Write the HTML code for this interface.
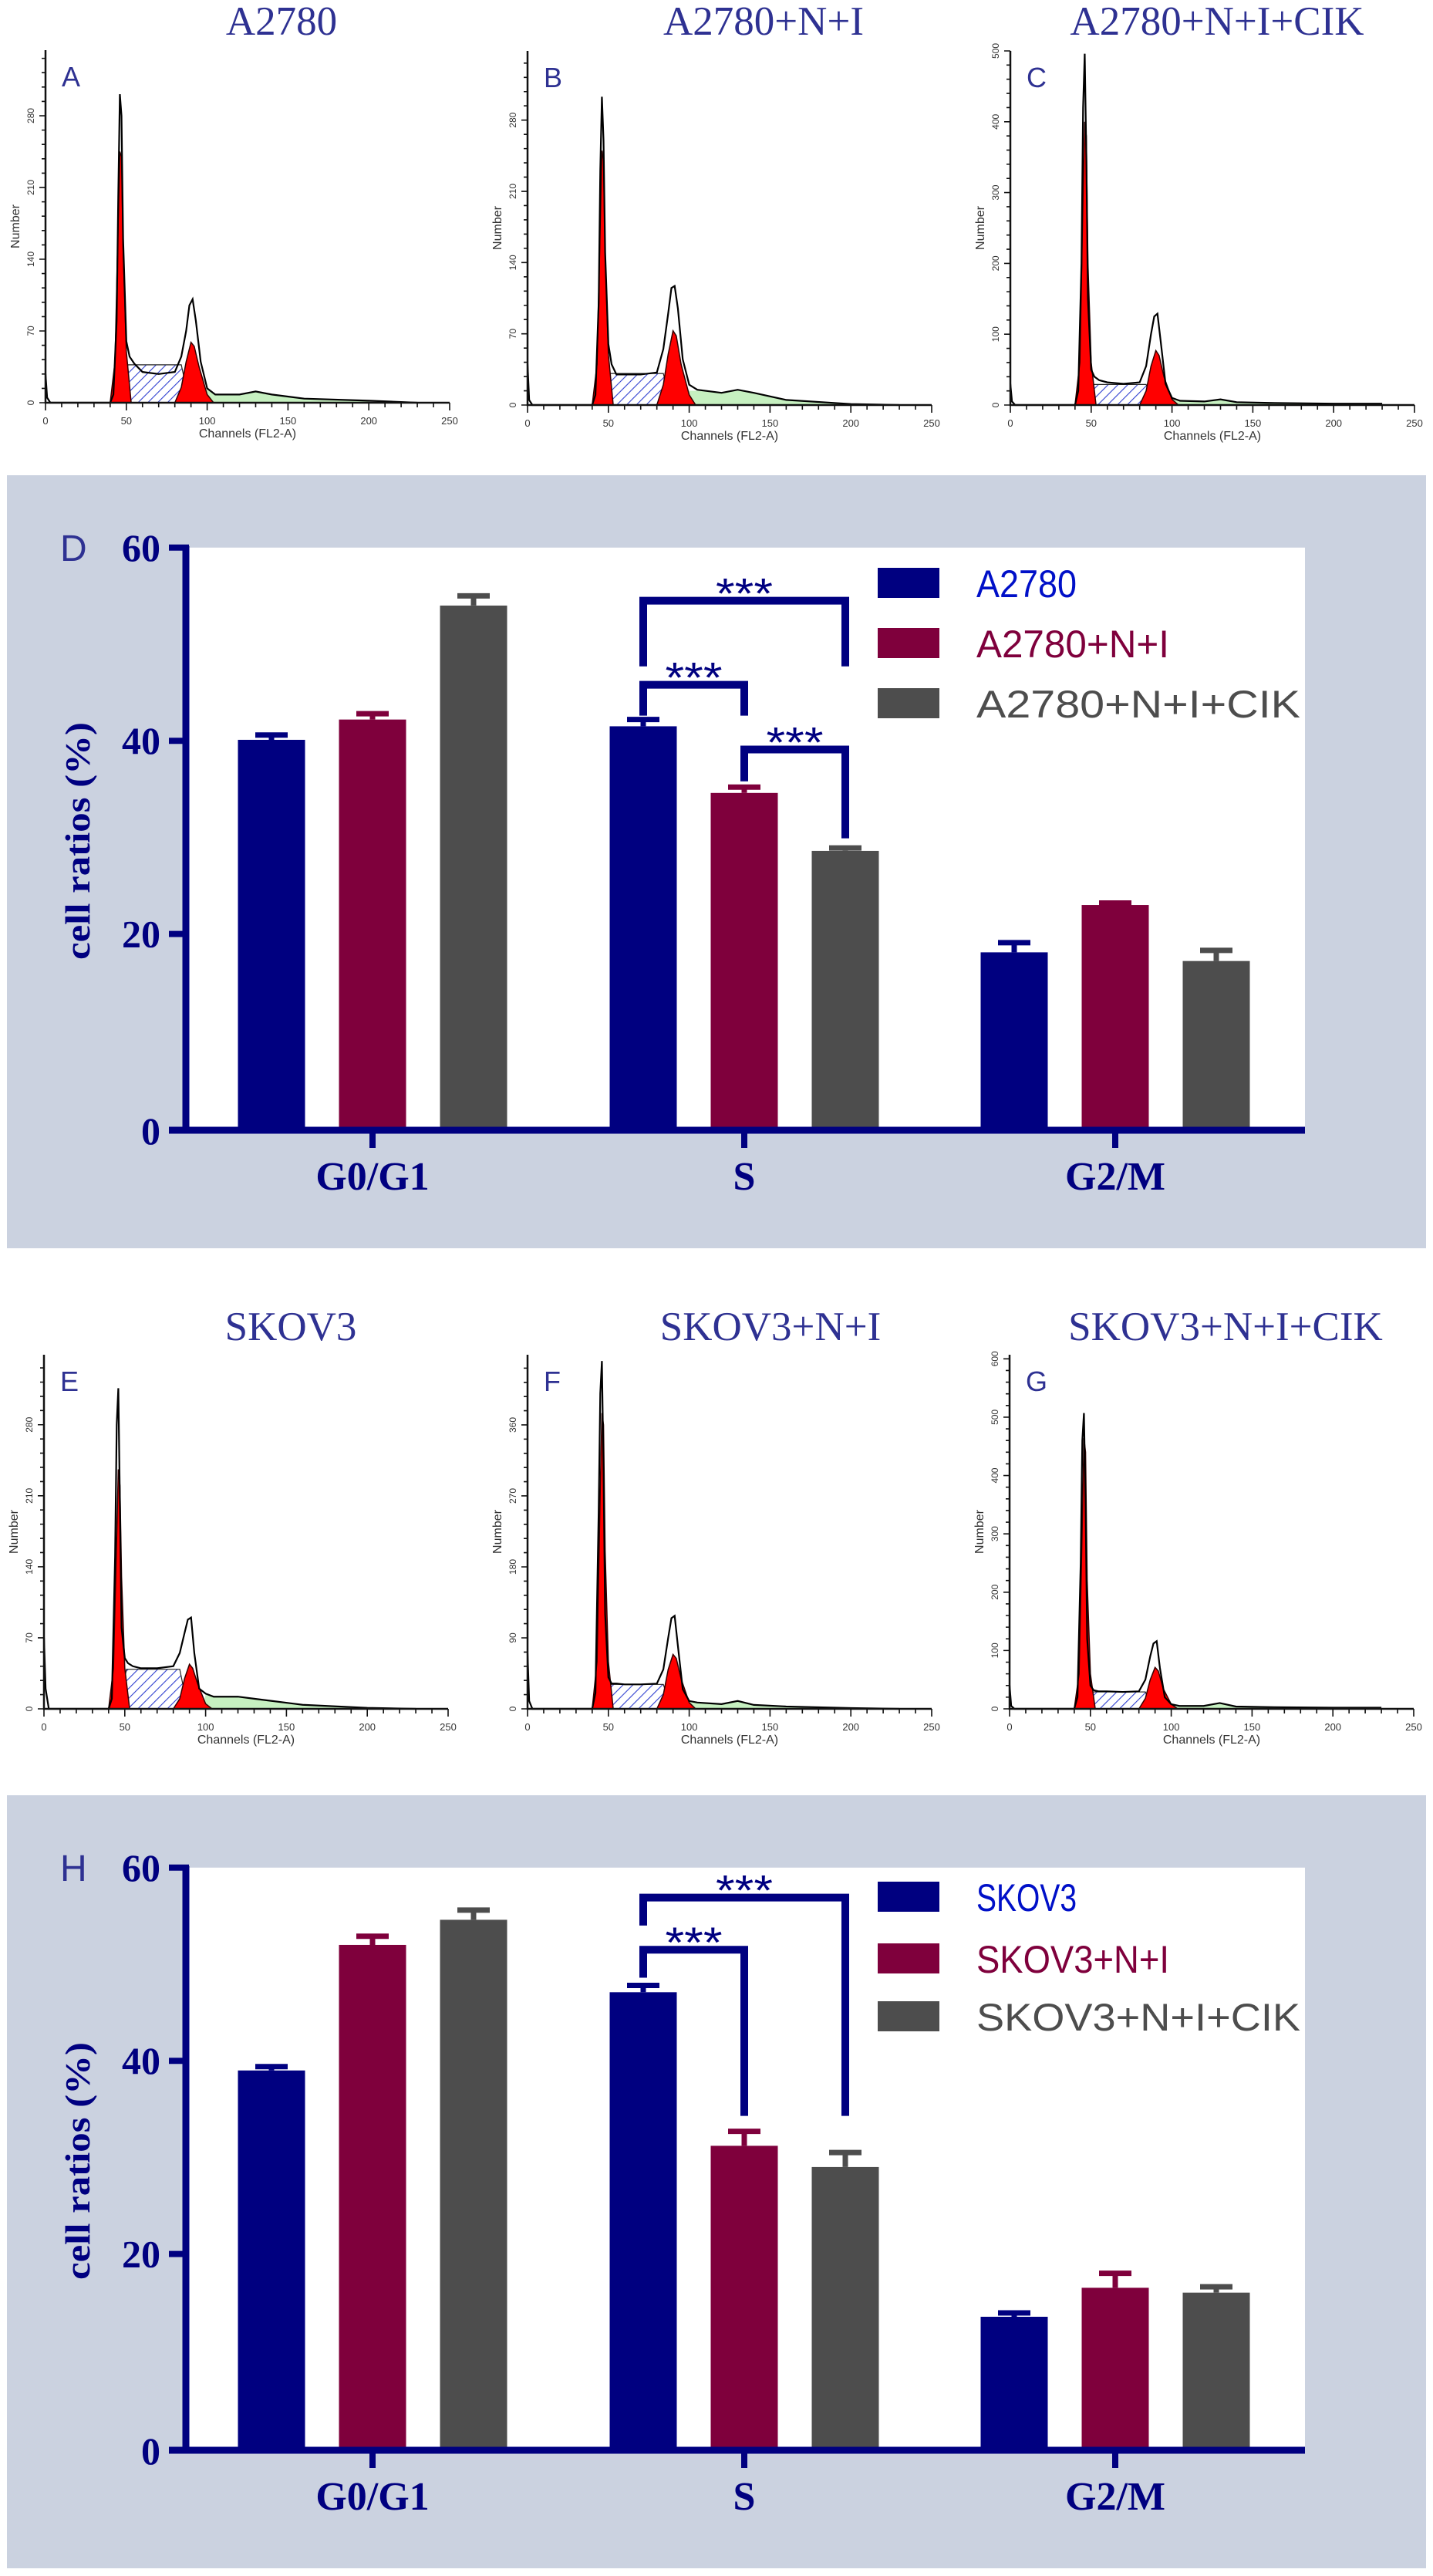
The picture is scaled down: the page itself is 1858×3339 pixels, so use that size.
<!DOCTYPE html>
<html><head><meta charset="utf-8"><style>
html,body{margin:0;padding:0;background:#fff;}
svg{display:block;}
</style></head><body>
<svg id="fig" xmlns="http://www.w3.org/2000/svg" width="1858" height="3339" viewBox="0 0 1858 3339">
<defs>
<pattern id="hatch" patternUnits="userSpaceOnUse" width="9" height="9" patternTransform="rotate(45)">
<rect width="9" height="9" fill="#fff"/>
<line x1="0" y1="0" x2="0" y2="9" stroke="#3040d0" stroke-width="2.2"/>
</pattern>
</defs>
</svg>
<script>
// ---------- Bar chart data ----------
const categories = ["G0/G1","S","G2/M"];
const seriesD = ["A2780","A2780+N+I","A2780+N+I+CIK"];
const seriesH = ["SKOV3","SKOV3+N+I","SKOV3+N+I+CIK"];
const yTicks = [0,20,40,60];
// values per series (rows) per category (columns)
const dA2780 = [40.1,41.5,18.1];
const dA2780NI = [42.2,34.6,23.0];
const dA2780NICIK = [54.0,28.6,17.2];
const dErrA2780 = [0.5,0.7,1.0];
const dErrA2780NI = [0.6,0.6,0.2];
const dErrA2780NICIK = [1.0,0.3,1.1];
const hSKOV3 = [39.0,47.1,13.5];
const hSKOV3NI = [52.0,31.2,16.5];
const hSKOV3NICIK = [54.6,29.0,16.0];
const hErrSKOV3 = [0.4,0.7,0.4];
const hErrSKOV3NI = [0.9,1.5,1.5];
const hErrSKOV3NICIK = [1.0,1.5,0.6];
// significance brackets: [fromSeries, toSeries, lineValue, leftLegEnd, rightLegEnd, label]
const bracketsD = [[0,2,54.5,47.7,47.7,"***"],[0,1,45.8,42.6,42.6,"***"],[1,2,39.1,35.8,29.9,"***"]];
const bracketsH = [[0,2,56.9,54.0,34.3,"***"],[0,1,51.5,48.6,34.3,"***"]];

// ---------- Histogram data ----------
const histChannels = [0,1,3,40,42,44,45,46,47,48,50,52,55,60,70,80,84,87,89,91,93,96,100,105,120,130,140,160,200,230];
const histA = [28,5,0,0,8,80,200,301,280,160,60,45,38,30,28,30,45,70,95,101,80,40,14,8,8,11,8,4,2,0];
const histB = [40,5,0,0,10,100,230,303,260,150,60,40,30,30,30,32,55,90,115,117,95,45,20,15,12,15,12,5,1,0];
const histC = [30,5,0,0,20,200,420,496,350,150,50,40,35,32,30,32,55,100,125,129,90,30,10,6,5,8,4,3,2,2];
const histE = [70,20,0,0,10,150,280,316,200,80,50,45,42,40,40,42,55,75,88,90,55,20,15,12,12,10,8,4,1,0];
const histF = [70,10,0,0,20,250,400,441,300,120,40,32,32,31,31,32,50,90,115,118,80,25,10,8,6,10,5,3,1,0];
const histG = [40,5,0,0,20,250,460,507,350,120,40,32,30,30,29,30,50,90,112,116,70,20,8,5,5,10,4,3,2,2];
const g1Channels = [40,43,45,46,47,48,50,53];
const g1A = [0,40,180,245,240,150,50,0];
const g1B = [0,40,180,250,240,150,50,0];
const g1C = [0,60,300,400,380,200,60,0];
const g1E = [0,40,170,236,220,130,40,0];
const g1F = [0,60,280,375,360,200,60,0];
const g1G = [0,60,320,464,440,220,60,0];
const g2Channels = [80,84,87,90,92,95,100,104];
const g2A = [0,15,40,59,55,35,8,0];
const g2B = [0,20,50,73,68,40,10,0];
const g2C = [0,20,55,77,70,40,8,0];
const g2E = [0,10,30,44,40,25,5,0];
const g2F = [0,18,50,69,64,38,8,0];
const g2G = [0,18,50,71,65,35,8,0];
const sLevels = [37,31,29,39,31,29];
const histYMax = [344,348,500,349,449,607];
const histTickStep = [70,70,100,70,90,100];
const xTickLabels = [0,50,100,150,200,250];
const histTitles = ["A2780","A2780+N+I","A2780+N+I+CIK","SKOV3","SKOV3+N+I","SKOV3+N+I+CIK"];
const histLetters = ["A","B","C","E","F","G"];

const NS = "http://www.w3.org/2000/svg";
const svg = document.getElementById("fig");
function mk(tag, attrs, parent){
  const e = document.createElementNS(NS, tag);
  for (const k in attrs) e.setAttribute(k, attrs[k]);
  (parent||svg).appendChild(e);
  return e;
}

// ---------- Histograms ----------
const histLayout = [
  {x0:59,yTop:65,yBot:522,tx:365,ty:45},
  {x0:684,yTop:66,yBot:525,tx:990,ty:45},
  {x0:1310,yTop:66,yBot:525,tx:1578,ty:45},
  {x0:57,yTop:1756,yBot:2215,tx:377,ty:1737},
  {x0:684,yTop:1756,yBot:2215,tx:999,ty:1737},
  {x0:1309,yTop:1756,yBot:2215,tx:1589,ty:1737}
];
const histAll = [histA,histB,histC,histE,histF,histG];
const g1All = [g1A,g1B,g1C,g1E,g1F,g1G];
const g2All = [g2A,g2B,g2C,g2E,g2F,g2G];

histLayout.forEach((L, i) => {
  const g = mk("g", {});
  
  
  const W = 524;
  const px = ch => L.x0 + ch / 250 * W;
  const py = c => L.yBot - c / histYMax[i] * (L.yBot - L.yTop);
  // title
  const t = mk("text", {x:L.tx, y:L.ty, "text-anchor":"middle", "font-family":"Liberation Serif, serif", "font-size":53, fill:"#2e3192"}, g);
  t.textContent = histTitles[i];
  
  
  const lt = mk("text", {x:L.x0+21, y:L.yTop+47, "font-family":"Liberation Sans, sans-serif", "font-size":36, fill:"#2e3192"}, g);
  lt.textContent = histLetters[i];
  
  
  // hatched S region
  const s = sLevels[i];
  const sp = mk("polygon", {points:`${px(47)},${py(0)} ${px(51)},${py(s)} ${px(84)},${py(s)} ${px(89)},${py(0)}`, fill:"url(#hatch)", stroke:"#222", "stroke-width":1.2}, g);
  
  
  // green tail
  const hv = histAll[i];
  let gp = `${px(98)},${py(0)} `;
  histChannels.forEach((ch, k) => { if (ch >= 100 && ch <= 200) gp += `${px(ch)},${py(Math.min(hv[k],14))} `; });
  gp += `${px(200)},${py(0)}`;
  const gr = mk("polygon", {points:gp, fill:"#c6f0c0", stroke:"none"}, g);
  
  
  // red peaks
  [[g1Channels,g1All[i],'g1-peak'],[g2Channels,g2All[i],'g2-peak']].forEach(([chs, vals, nm]) => {
    const pts = chs.map((ch,k) => `${px(ch)},${py(vals[k])}`).join(" ");
    const r = mk("polygon", {points:pts, fill:"#ff0000", stroke:"#300", "stroke-width":1.5}, g);
    
    
  });
  // outline
  const op = histChannels.map((ch,k) => `${px(ch)},${py(hv[k])}`).join(" ");
  const ol = mk("polyline", {points:op, fill:"none", stroke:"#000", "stroke-width":2.2}, g);
  
  
  // axes
  const ax = mk("path", {d:`M${L.x0},${L.yTop} V${L.yBot} H${L.x0+W}`, fill:"none", stroke:"#111", "stroke-width":2.5}, g);
  
  
  let tk = "";
  for (let ch = 0; ch <= 250; ch += 10) tk += `M${px(ch)},${L.yBot} v${ch % 50 === 0 ? 10 : 6} `;
  const step = histTickStep[i] / 5;
  for (let c = 0; c <= histYMax[i]; c += step) tk += `M${L.x0},${py(c)} h-${(Math.round(c/step) % 5 === 0) ? 8 : 5} `;
  mk("path", {d:tk, stroke:"#111", "stroke-width":1.6, fill:"none"}, g);
  xTickLabels.forEach(v => {
    const tl = mk("text", {x:px(v), y:L.yBot+28, "text-anchor":"middle", "font-family":"Liberation Sans, sans-serif", "font-size":13, fill:"#333"}, g);
    tl.textContent = v;
    
    
  });
  for (let c = 0; c <= histYMax[i]; c += histTickStep[i]) {
    const yl = mk("text", {x:0, y:0, transform:`translate(${L.x0-15},${py(c)}) rotate(-90)`, "text-anchor":"middle", "font-family":"Liberation Sans, sans-serif", "font-size":12, fill:"#333"}, g);
    yl.textContent = c;
    
    
  }
  const xt = mk("text", {x:L.x0+262, y:L.yBot+45, "text-anchor":"middle", "font-family":"Liberation Sans, sans-serif", "font-size":16, fill:"#333"}, g);
  xt.textContent = "Channels (FL2-A)";
  
  
  const yt = mk("text", {x:0, y:0, transform:`translate(${L.x0-34},${(L.yTop+L.yBot)/2}) rotate(-90)`, "text-anchor":"middle", "font-family":"Liberation Sans, sans-serif", "font-size":16, fill:"#333"}, g);
  yt.textContent = "Number";
  
  
});

// ---------- Bar charts ----------
const barColors = ["#000080","#7f003c","#4d4d4d"];
const legendColors = ["#0010c8","#7f003c","#4d4d4d"];
function barChart(off, letter, names, vals, errs, brackets, legendTops, name){
  const g = mk("g", {});
  
  
  const y0 = 1461 + off, k = 12.52;
  const yv = v => y0 - v * k;
  const groupX = [483, 965, 1446];
  const barOff = [-131, 0, 131];
  const bw = 87;
  const bx = (c, s) => groupX[c] + barOff[s];
  const bg = mk("rect", {x:9, y:616+off, width:1840, height:1002, fill:"#cbd2e0"}, g);
  
  
  const pa = mk("rect", {x:241, y:yv(60), width:1451, height:yv(0)-yv(60), fill:"#fff"}, g);
  
  
  const lt = mk("text", {x:78, y:yv(60)+17, "font-family":"Liberation Sans, sans-serif", "font-size":48, fill:"#2e3192"}, g);
  lt.textContent = letter;
  
  
  // bars
  vals.forEach((arr, s) => {
    arr.forEach((v, c) => {
      const r = mk("rect", {x:bx(c,s)-bw/2, y:yv(v), width:bw, height:yv(0)-yv(v), fill:barColors[s]}, g);
      
      
      const e = errs[s][c];
      const eb = mk("path", {d:`M${bx(c,s)},${yv(v)} V${yv(v+e)} M${bx(c,s)-21},${yv(v+e)} H${bx(c,s)+21}`, stroke:barColors[s], "stroke-width":7, fill:"none"}, g);
      
      
    });
  });
  // axes
  const ya = mk("path", {d:`M${241},${yv(60)-2} V${yv(0)+8} M219,${yv(0)+4} H1692`, stroke:"#000080", "stroke-width":9, fill:"none"}, g);
  
  
  yTicks.forEach(v => {
    if (v > 0) {
      const tm = mk("path", {d:`M219,${yv(v)} H245`, stroke:"#000080", "stroke-width":8}, g);
      
      
    }
    const tl = mk("text", {x:208, y:yv(v)+(v===0?22:17), "text-anchor":"end", "font-family":"Liberation Serif, serif", "font-weight":"bold", "font-size":50, fill:"#000080"}, g);
    tl.textContent = v;
    
    
  });
  categories.forEach((c, i) => {
    const tm = mk("path", {d:`M${groupX[i]},${yv(0)+4} V${yv(0)+27}`, stroke:"#000080", "stroke-width":8}, g);
    
    
    const tl = mk("text", {x:groupX[i], y:yv(0)+81, "text-anchor":"middle", "font-family":"Liberation Serif, serif", "font-weight":"bold", "font-size":52, fill:"#000080"}, g);
    tl.textContent = c;
    
    
  });
  const yt = mk("text", {x:0, y:0, transform:`translate(116,${1090+off}) rotate(-90)`, "text-anchor":"middle", "font-family":"Liberation Serif, serif", "font-weight":"bold", "font-size":46, fill:"#000080", textLength:308, lengthAdjust:"spacingAndGlyphs"}, g);
  yt.textContent = "cell ratios (%)";
  
  
  // brackets
  brackets.forEach(b => {
    const xa = bx(1, b[0]), xb = bx(1, b[1]);
    const bp = mk("path", {d:`M${xa},${yv(b[3])} V${yv(b[2])} H${xb} V${yv(b[4])}`, stroke:"#000080", "stroke-width":10, fill:"none"}, g);
    
    
    const st = mk("text", {x:(xa+xb)/2, y:yv(b[2])+10, "text-anchor":"middle", "font-family":"Liberation Sans, sans-serif", "font-size":56, fill:"#000080", textLength:74, lengthAdjust:"spacingAndGlyphs"}, g);
    st.textContent = b[5];
    
    
  });
  // legend
  names.forEach((n, s) => {
    const ty = legendTops[s] + off;
    const sw = mk("rect", {x:1138, y:ty, width:80, height:39, fill:barColors[s]}, g);
    
    
    const tx = mk("text", {x:1266, y:ty+38, "font-family":"Liberation Sans, sans-serif", "font-size":50, fill:legendColors[s]}, g);
    tx.textContent = n;
    
    
    tx.setAttribute('textLength', n.length > 10 ? 420 : (n.length > 6 ? 250 : 130));
    tx.setAttribute('lengthAdjust', 'spacingAndGlyphs');
  });
}
barChart(0, "D", seriesD, [dA2780,dA2780NI,dA2780NICIK], [dErrA2780,dErrA2780NI,dErrA2780NICIK], bracketsD, [736,814,892], 'bar-chart-a2780');
barChart(1711, "H", seriesH, [hSKOV3,hSKOV3NI,hSKOV3NICIK], [hErrSKOV3,hErrSKOV3NI,hErrSKOV3NICIK], bracketsH, [728,808,883], 'bar-chart-skov3');
</script>
</body></html>
